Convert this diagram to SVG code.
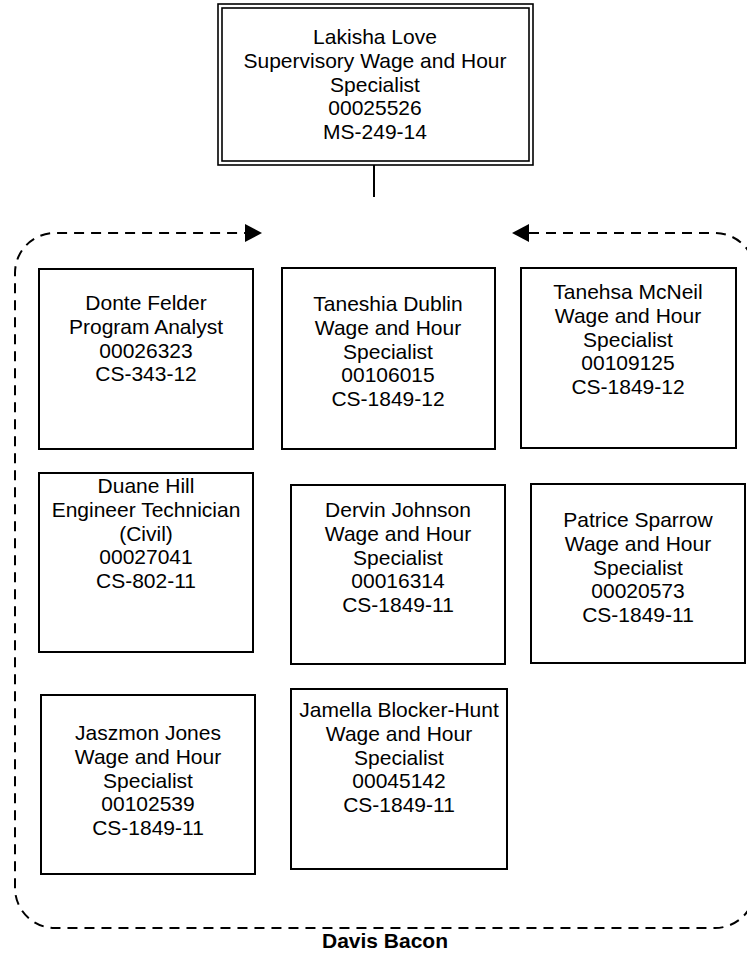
<svg xmlns="http://www.w3.org/2000/svg" width="747" height="954" viewBox="0 0 747 954">
<defs>
<marker id="arr" markerUnits="userSpaceOnUse" markerWidth="18" markerHeight="18" refX="0" refY="9" orient="auto-start-reverse" viewBox="0 0 18 18">
<path d="M0,0 L17,9 L0,18 z" fill="#000"/>
</marker>
<style>
.box{fill:#fff;stroke:#000;stroke-width:2}
.dbl{fill:none;stroke:#000;stroke-width:1.6}
.t{font-family:"Liberation Sans",Arial,Helvetica,sans-serif;font-size:21px;fill:#000;text-anchor:middle}
.lbl{font-family:"Liberation Sans",Arial,Helvetica,sans-serif;font-size:21px;font-weight:bold;fill:#000;text-anchor:middle}
.conn{fill:none;stroke:#000;stroke-width:2}
.dash{fill:none;stroke:#000;stroke-width:2;stroke-dasharray:10 7}
</style>
</defs>
<rect width="747" height="954" fill="#fff"/>
<g id="connectors">
<line class="conn" x1="374" y1="165" x2="374" y2="197"/>
<path class="dash" d="M529,233 H715 A40,40 0 0 1 755,273 V888 A40,40 0 0 1 715,928 H55 A40,40 0 0 1 15,888 V273 A40,40 0 0 1 55,233 H245" marker-start="url(#arr)" marker-end="url(#arr)"/>
</g>
<g id="group-label"><text class="lbl" x="385" y="948">Davis Bacon</text></g>
<g id="node-top">
<rect class="box" x="218" y="4" width="315" height="161" style="stroke-width:1.6"/>
<rect class="dbl" x="222" y="8" width="307" height="153"/>
<text class="t" x="375" y="44">Lakisha Love<tspan x="375" dy="23.8">Supervisory Wage and Hour</tspan><tspan x="375" dy="23.8">Specialist</tspan><tspan x="375" dy="23.8">00025526</tspan><tspan x="375" dy="23.8">MS-249-14</tspan></text>
</g>
<g id="node-felder">
<rect class="box" x="39" y="269" width="214" height="180"/>
<text class="t" x="146" y="310">Donte Felder<tspan x="146" dy="23.8">Program Analyst</tspan><tspan x="146" dy="23.8">00026323</tspan><tspan x="146" dy="23.8">CS-343-12</tspan></text>
</g>
<g id="node-dublin">
<rect class="box" x="282" y="268" width="213" height="181"/>
<text class="t" x="388" y="311">Taneshia Dublin<tspan x="388" dy="23.8">Wage and Hour</tspan><tspan x="388" dy="23.8">Specialist</tspan><tspan x="388" dy="23.8">00106015</tspan><tspan x="388" dy="23.8">CS-1849-12</tspan></text>
</g>
<g id="node-mcneil">
<rect class="box" x="521" y="268" width="215" height="180"/>
<text class="t" x="628" y="299">Tanehsa McNeil<tspan x="628" dy="23.8">Wage and Hour</tspan><tspan x="628" dy="23.8">Specialist</tspan><tspan x="628" dy="23.8">00109125</tspan><tspan x="628" dy="23.8">CS-1849-12</tspan></text>
</g>
<g id="node-hill">
<rect class="box" x="39" y="473" width="214" height="179"/>
<text class="t" x="146" y="493">Duane Hill<tspan x="146" dy="23.8">Engineer Technician</tspan><tspan x="146" dy="23.8">(Civil)</tspan><tspan x="146" dy="23.8">00027041</tspan><tspan x="146" dy="23.8">CS-802-11</tspan></text>
</g>
<g id="node-johnson">
<rect class="box" x="291" y="485" width="214" height="179"/>
<text class="t" x="398" y="517">Dervin Johnson<tspan x="398" dy="23.8">Wage and Hour</tspan><tspan x="398" dy="23.8">Specialist</tspan><tspan x="398" dy="23.8">00016314</tspan><tspan x="398" dy="23.8">CS-1849-11</tspan></text>
</g>
<g id="node-sparrow">
<rect class="box" x="531" y="484" width="214" height="179"/>
<text class="t" x="638" y="527">Patrice Sparrow<tspan x="638" dy="23.8">Wage and Hour</tspan><tspan x="638" dy="23.8">Specialist</tspan><tspan x="638" dy="23.8">00020573</tspan><tspan x="638" dy="23.8">CS-1849-11</tspan></text>
</g>
<g id="node-jones">
<rect class="box" x="41" y="695" width="214" height="179"/>
<text class="t" x="148" y="740">Jaszmon Jones<tspan x="148" dy="23.8">Wage and Hour</tspan><tspan x="148" dy="23.8">Specialist</tspan><tspan x="148" dy="23.8">00102539</tspan><tspan x="148" dy="23.8">CS-1849-11</tspan></text>
</g>
<g id="node-blockerhunt">
<rect class="box" x="291" y="689" width="216" height="180"/>
<text class="t" x="399" y="717">Jamella Blocker-Hunt<tspan x="399" dy="23.8">Wage and Hour</tspan><tspan x="399" dy="23.8">Specialist</tspan><tspan x="399" dy="23.8">00045142</tspan><tspan x="399" dy="23.8">CS-1849-11</tspan></text>
</g>
</svg>
